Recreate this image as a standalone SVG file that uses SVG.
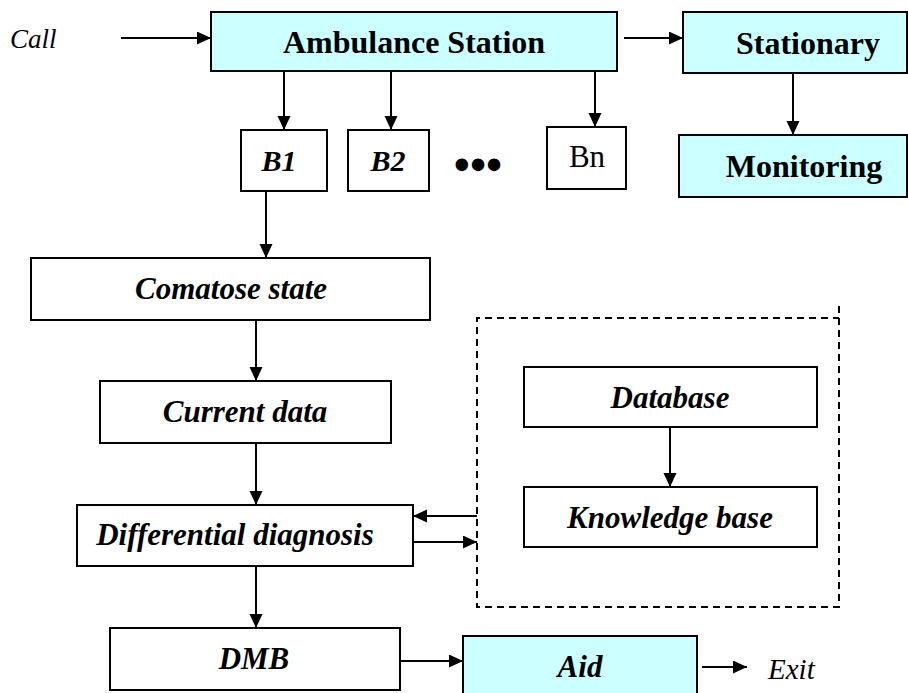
<svg xmlns="http://www.w3.org/2000/svg" width="908" height="693" viewBox="0 0 908 693">
<defs>
<marker id="ah" markerUnits="userSpaceOnUse" markerWidth="16" markerHeight="14" refX="14" refY="6.5" orient="auto">
<path d="M0,0 L14,6.5 L0,13 z" fill="#000"/>
</marker>
</defs>
<style>
.box{fill:#fff;stroke:#000;stroke-width:2}
.cyan{fill:#ccffff;stroke:#000;stroke-width:2}
.t{font-size:31px;fill:#000;text-anchor:middle}
.bi{font-weight:bold;font-style:italic}
.b{font-weight:bold}
.i{font-style:italic}
.c{stroke:#000;stroke-width:2;fill:none}
.a{marker-end:url(#ah)}
.dash{fill:none;stroke:#000;stroke-width:2;stroke-dasharray:7,5}
</style>
<rect width="908" height="693" fill="#fff"/>
<g font-family="Liberation Serif, Times New Roman, serif">
<g id="call"><text class="t i" x="10" y="48" style="text-anchor:start;font-size:27px">Call</text></g>
<g id="ambulance"><rect class="cyan" x="211" y="12" width="406" height="59"/><text class="t b" x="414" y="53" style="font-size:32px">Ambulance Station</text></g>
<g id="stationary"><rect class="cyan" x="683" y="12" width="224" height="61"/><text class="t b" x="808" y="54" style="font-size:32px">Stationary</text></g>
<g id="monitoring"><rect class="cyan" x="679" y="135" width="228" height="62"/><text class="t b" x="804" y="177" style="font-size:32px">Monitoring</text></g>
<g id="b1"><rect class="box" x="241" y="130" width="86" height="61"/><text class="t bi" x="279" y="171" style="font-size:30px">B1</text></g>
<g id="b2"><rect class="box" x="348" y="130" width="81" height="61"/><text class="t bi" x="388" y="171" style="font-size:30px">B2</text></g>
<g id="dots"><text class="t b" x="478" y="180" style="font-size:46px">•••</text></g>
<g id="bn"><rect class="box" x="547" y="127" width="79" height="62"/><text class="t" x="587" y="167" style="font-size:31px">Bn</text></g>
<g id="comatose"><rect class="box" x="31" y="258" width="399" height="62"/><text class="t bi" x="231" y="299">Comatose state</text></g>
<g id="current"><rect class="box" x="100" y="381" width="291" height="62"/><text class="t bi" x="245" y="422">Current data</text></g>
<g id="diff"><rect class="box" x="77" y="505" width="336" height="61"/><text class="t bi" x="235" y="545">Differential diagnosis</text></g>
<g id="dmb"><rect class="box" x="110" y="628" width="290" height="62"/><text class="t bi" x="254" y="669">DMB</text></g>
<g id="aid"><rect class="cyan" x="463" y="636" width="234" height="70"/><text class="t bi" x="580" y="677">Aid</text></g>
<g id="exit"><text class="t i" x="768" y="679" style="text-anchor:start;font-size:29px">Exit</text></g>
<g id="kbgroup"><path class="dash" d="M839,306 L839,607 L477,607 L477,318 L839,318"/></g>
<g id="database"><rect class="box" x="524" y="367" width="293" height="60"/><text class="t bi" x="670" y="408">Database</text></g>
<g id="knowledge"><rect class="box" x="524" y="487" width="293" height="60"/><text class="t bi" x="670" y="528">Knowledge base</text></g>
</g>
<g id="connectors">
<line class="c a" x1="121" y1="38" x2="211" y2="38"/>
<line class="c a" x1="624" y1="38" x2="683" y2="38"/>
<line class="c a" x1="284" y1="71" x2="284" y2="130"/>
<line class="c a" x1="391" y1="71" x2="391" y2="130"/>
<line class="c a" x1="595" y1="71" x2="595" y2="127"/>
<line class="c a" x1="793" y1="73" x2="793" y2="135"/>
<line class="c a" x1="266" y1="191" x2="266" y2="258"/>
<line class="c a" x1="256" y1="320" x2="256" y2="381"/>
<line class="c a" x1="256" y1="443" x2="256" y2="505"/>
<line class="c a" x1="256" y1="566" x2="256" y2="628"/>
<line class="c a" x1="670" y1="427" x2="670" y2="487"/>
<line class="c a" x1="477" y1="516" x2="413" y2="516"/>
<line class="c a" x1="413" y1="542" x2="477" y2="542"/>
<line class="c a" x1="400" y1="661" x2="463" y2="661"/>
<line class="c a" x1="702" y1="667" x2="747" y2="667"/>
</g>
</svg>
